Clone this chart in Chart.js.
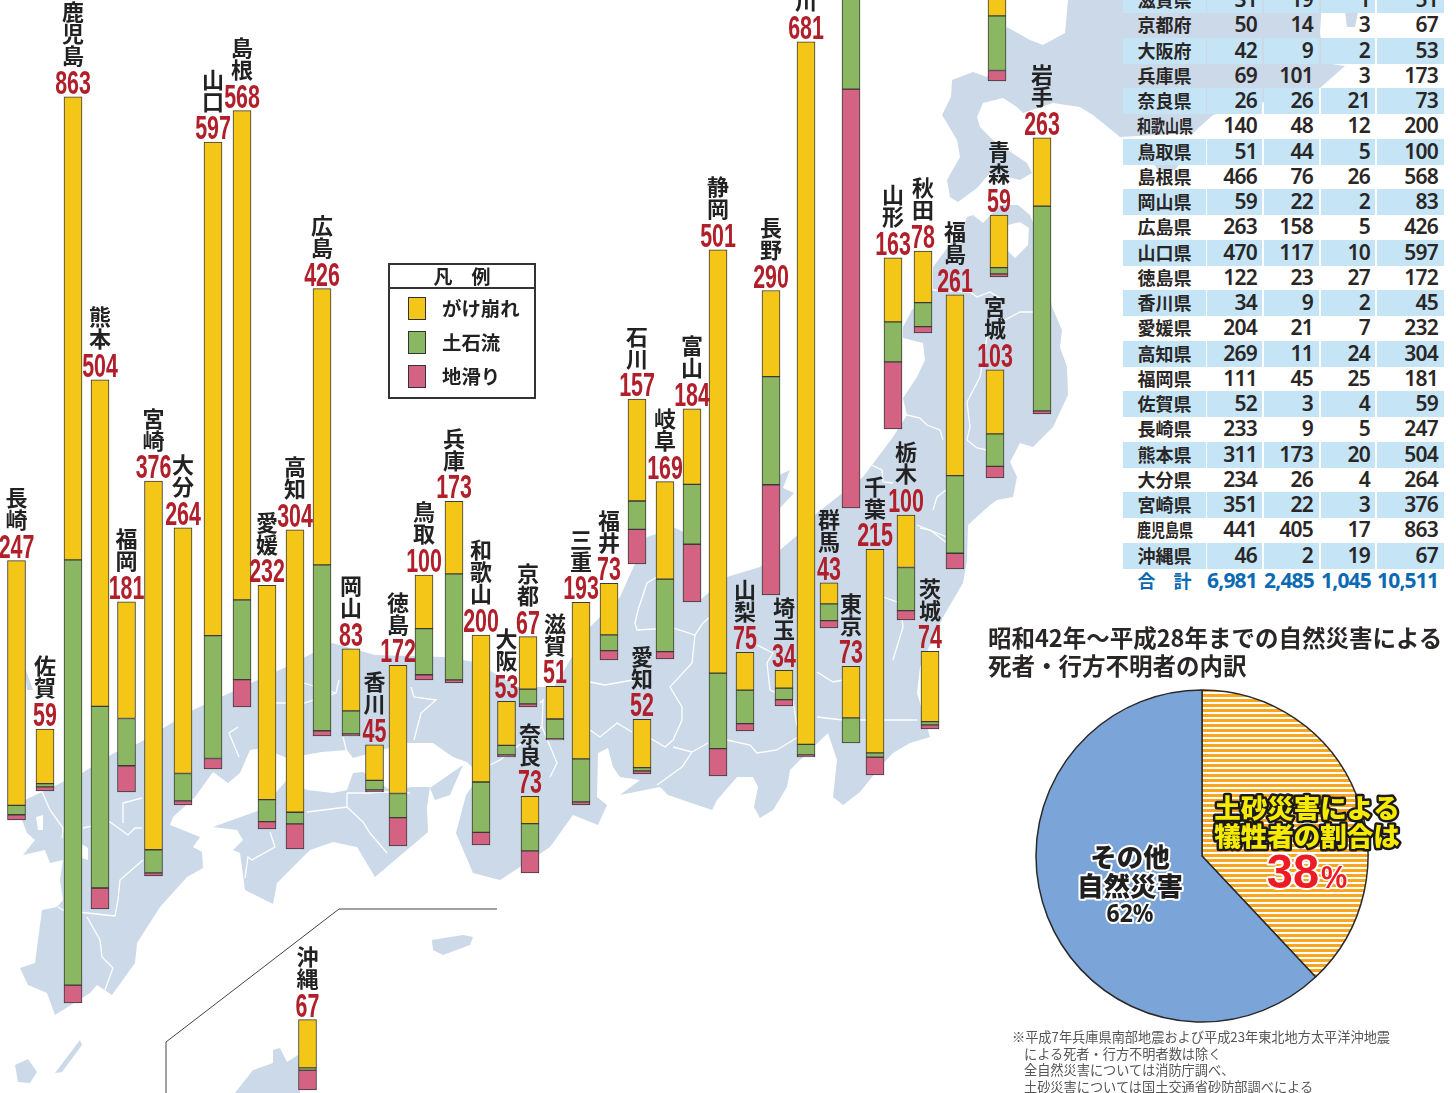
<!DOCTYPE html>
<html lang="ja">
<head>
<meta charset="utf-8">
<title>土砂災害 都道府県別 死者・行方不明者数</title>
<script src="https://cdn.jsdelivr.net/npm/chart.js@4"></script>
<style>
html,body{margin:0;padding:0;background:#fff;width:1456px;height:1093px;overflow:hidden}
body{position:relative;font-family:"Noto Sans CJK JP","Noto Sans",sans-serif;color:#222}
#map{position:absolute;left:0;top:0}
#barChart{position:absolute;left:0;top:0}
#pieChart{position:absolute;left:1030px;top:684px}
.row{position:absolute;left:1123px;width:323px;height:26px;line-height:25px}
.row.blue span{background:#c5e5f7}
.row span{position:absolute;top:0;height:26px;text-align:right;box-sizing:border-box;
  font:600 21px/25px "Noto Sans",sans-serif;letter-spacing:-.8px;color:#2a2626}
.row span.name{font:700 18px/25px "Noto Sans CJK JP",sans-serif;letter-spacing:0;text-align:center}
.row span.name i{display:inline-block;font-style:normal;transform:scaleX(.78);transform-origin:center;white-space:nowrap;margin:0 -9px}
.row.total span{color:#0a6ab3;font-weight:700}
#legend{position:absolute;left:388px;top:263px;width:144px;height:132px;border:2px solid #333;background:#fff}
#legend .head{height:22px;border-bottom:2px solid #333;text-align:center;font:700 19px/22px "Noto Sans CJK JP",sans-serif}
#legend .sw{position:absolute;left:18px;width:16px;height:21px;border:1.5px solid #333}
#legend .lb{position:absolute;left:52px;font:700 19.4px/24px "Noto Sans CJK JP",sans-serif}
#title{position:absolute;left:988px;top:623px;font:700 23.5px/28px "Noto Sans CJK JP",sans-serif;color:#2a2626;white-space:nowrap}
#note{position:absolute;left:1012px;top:1029px;font:400 13.2px/16.7px "Noto Sans CJK JP",sans-serif;color:#555;white-space:nowrap}
#note div+div{padding-left:12px}
</style>
</head>
<body>
<svg id="map" width="1456" height="1093" viewBox="0 0 1456 1093">
  <g fill="#cbd9e8">
    <!-- 北海道 -->
    <polygon points="1068,0 1065,33 1043,45 1030,40 1007,27 987,77 973,72 952,80 951,97 942,115 957,140 960,157 947,180 950,197 958,202 977,188 990,173 1020,180 1032,173 1027,163 993,140 980,127 977,117 983,103 1003,98 1017,107 1023,113 1053,103 1080,107 1093,115 1120,137 1193,133 1213,115 1320,88 1345,66 1325,63 1320,33 1322,0"/>
    <polygon points="1345,12 1358,12 1355,27 1347,27"/>
    <polygon points="1153,163 1180,163 1175,170 1158,170"/>
    <!-- 本州・九州 -->
    <polygon points="139,743 193,710 286,667 332,643 375,655 443,657 475,662 518,687 554,687 590,627 620,597 647,537 675,528 690,535 700,600 712,590 727,577 760,567 800,533 817,513 863,477 893,437 907,415 903,398 917,377 925,360 923,343 903,338 903,327 912,310 933,290 933,267 963,227 967,217 973,215 983,223 1000,205 1018,205 1030,215 1040,240 1052,307 1062,330 1060,347 1067,367 1068,395 1053,427 1033,447 1020,443 1010,462 1017,477 1013,497 997,500 990,505 968,525 967,560 963,583 943,617 920,667 917,693 930,737 910,743 893,753 880,767 860,792 843,805 833,797 837,760 828,733 800,760 790,770 787,787 773,810 760,818 754,807 758,787 753,777 737,777 717,800 712,810 668,795 660,787 620,795 640,780 620,777 613,767 608,748 598,753 597,797 607,805 598,825 573,815 550,847 520,867 500,880 473,873 456,833 466,795 480,775 467,762 453,757 433,743 407,743 353,758 347,750 322,752 287,758 263,748 250,750 240,773 228,783 213,772 195,797 173,817 170,825 200,837 193,847 202,852 203,868 187,877 160,907 137,943 135,963 112,995 97,985 90,993 55,1015 47,993 28,985 20,968 35,963 42,910 57,907 63,900 60,880 63,860 50,863 45,850 23,855 35,840 27,833 20,815 25,800 82,773 114,753"/>
    <!-- 四国 -->
    <polygon points="213,827 260,810 287,780 307,790 333,793 347,790 353,773 363,772 390,790 413,787 430,787 427,807 428,832 375,877 357,847 333,842 310,850 277,883 273,904 245,890 240,853 233,850 243,840 237,830"/>
    <!-- 島 -->
    <polygon points="430,788 463,765 450,795 435,800"/>
    <polygon points="768,480 790,470 783,488 794,493 780,508 768,510"/>
    <polygon points="25,668 33,690 27,690"/>
    <polygon points="15,1065 28,1059 37,1072 30,1083 18,1082"/>
    <polygon points="55,1073 80,1040 82,1045 62,1072"/>
    <polygon points="432,940 463,935 473,937 470,945 443,955 433,950"/>
    <polygon points="235,1093 253,1070 273,1063 273,1050 280,1048 287,1062 298,1055 300,1093"/>
  </g>
  <g fill="#fff">
    <polygon points="1008,225 1020,222 1029,228 1028,245 1015,258 1007,250"/>
    <polygon points="80,843 88,848 88,860 82,858"/>
    <polygon points="36,817 43,815 43,830 38,830"/>
  </g>
  <g fill="none" stroke="#fff" stroke-width="1.3">
    <polyline points="40,787 50,810 63,828 62,838"/>
    <polyline points="83,828 110,822 128,835 135,828 142,828"/>
    <polyline points="123,823 123,803 142,798"/>
    <polyline points="143,860 120,880 118,900 115,916 87,913 63,910 58,907"/>
    <polyline points="87,917 100,940 102,957 113,968 105,990"/>
    <polyline points="238,727 229,733 239,757"/>
    <polyline points="271,703 304,703 336,693 339,680"/>
    <polyline points="304,683 336,693"/>
    <polyline points="343,737 348,757"/>
    <polyline points="411,687 414,697 436,700 421,713 414,740"/>
    <polyline points="347,793 347,807 363,822 370,833 387,853"/>
    <polyline points="347,793 367,793 387,792 410,793"/>
    <polyline points="307,812 347,807"/>
    <polyline points="270,832 275,847 252,860 248,857 245,878"/>
    <polyline points="635,623 638,610 647,583 657,577"/>
    <polyline points="635,623 637,630 673,628 695,635 703,623 710,617"/>
    <polyline points="695,635 692,663 670,687 682,707 682,720 673,740 665,747 650,738"/>
    <polyline points="673,747 692,752 682,767 657,785"/>
    <polyline points="692,752 708,743"/>
    <polyline points="727,740 750,745 757,753 777,750 798,737"/>
    <polyline points="757,645 773,653 767,663 770,690 793,700 797,727"/>
    <polyline points="817,672 833,682 843,680"/>
    <polyline points="817,717 843,720 867,720 917,720"/>
    <polyline points="883,597 900,603 903,627 893,660"/>
    <polyline points="917,525 947,537"/>
    <polyline points="920,528 930,530 947,543"/>
    <polyline points="590,682 605,685 633,680"/>
    <polyline points="590,730 600,737 617,723 632,732"/>
    <polyline points="540,703 543,700 542,727 557,763 550,777"/>
    <polyline points="542,727 500,760 480,770"/>
    <polyline points="903,414 920,418 927,425 940,430 943,440"/>
    <polyline points="967,440 977,448 987,450"/>
    <polyline points="967,440 970,427 967,402 980,377 987,337"/>
    <polyline points="1005,320 1020,312 1033,312"/>
    <polyline points="933,290 970,292 977,297 990,292 1003,300"/>
    <polyline points="867,463 882,470 883,482 893,483"/>
    <polyline points="933,510 937,497 950,487"/>
  </g>
  <polyline points="166,1093 166,1042 339,909 497,909" fill="none" stroke="#444" stroke-width="1"/>
</svg>

<div id="table"></div>
<canvas id="barChart" width="1456" height="1093"></canvas>
<div id="legend"><div class="head">凡　例</div></div>
<div id="title">昭和42年～平成28年までの自然災害による<br>死者・行方不明者の内訳</div>
<canvas id="pieChart" width="426" height="344"></canvas>
<div id="note">
  <div>※平成7年兵庫県南部地震および平成23年東北地方太平洋沖地震</div>
  <div>による死者・行方不明者数は除く</div>
  <div>全自然災害については消防庁調べ、</div>
  <div>土砂災害については国土交通省砂防部調べによる</div>
</div>

<script>
// 都道府県別の値（全国地方公共団体コード順）
const prefs = ["北海道","青森","岩手","宮城","秋田","山形","福島","茨城","栃木","群馬","埼玉","千葉","東京","神奈川","新潟","富山","石川","福井","山梨","長野","岐阜","静岡","愛知","三重","滋賀","京都","大阪","兵庫","奈良","和歌山","鳥取","島根","岡山","広島","山口","徳島","香川","愛媛","高知","福岡","佐賀","長崎","熊本","大分","宮崎","鹿児島","沖縄"]
const cliff  = [155,50,65,61,49,61,172,67,50,20,17,194,49,669,200,72,97,49,36,82,93,403,46,149,31,50,42,69,26,140,51,466,59,263,470,122,34,204,269,111,52,233,311,234,351,441,46]
const debris = [52,6,195,31,23,38,74,3,41,16,11,4,24,10,155,57,27,15,32,103,69,72,3,41,19,14,9,101,26,48,44,76,22,158,117,23,9,21,11,45,3,9,173,26,22,405,2]
const slide  = [10,3,3,11,6,64,15,4,9,7,6,17,0,2,399,55,33,9,7,105,7,26,3,3,1,3,2,3,21,12,5,26,2,5,10,27,2,7,24,25,4,5,20,4,3,17,19]
const totals = [217,59,263,103,78,163,261,74,100,43,34,215,73,681,754,184,157,73,75,290,169,501,52,193,51,67,53,173,73,200,100,568,83,426,597,172,45,232,304,181,59,247,504,264,376,863,67]
const sumRow = ["合　計","6,981","2,485","1,045","10,511"]

// 地図上の棒の位置（ピクセル）
const barX      = [997,999,1042,995,923,893,955,930,906,829,784,875,851,806,851,692,637,609,745,771,665,718,642,581,555,528,506.5,454,530,481,424,242,351,322,213,398,374.5,267,295,126.5,45,16.5,100,183,153.5,73,307.5]
const barBottom = [81,277,414,478,333,429,569,729,620,628,706,775,743,757,508,602,564,660,731,595,659,776,774,805,740,707,757,683,873,845,680,707,736,736,769,846,792,829,849,792,791,820,909,805,876,1003,1090]

const legendLabels = ["がけ崩れ","土石流","地滑り"]
const colors = ["#f3c618","#8bb762","#d46282"]

const pieLabels = ["土砂災害","その他自然災害"]
const pieValues = [38,62]

const pxPerUnit = 1.05
const firstRow = prefs.indexOf("滋賀")

// 棒はピンク(下)→緑→黄(上)の順に積む
const base = barBottom.map(b => (1093 - b) / pxPerUnit)
const slideBars  = barX.map((x,i) => slide[i] ? {x:x, y:[base[i], base[i]+slide[i]]} : null).filter(d => d)
const debrisBars = barX.map((x,i) => ({x:x, y:[base[i]+slide[i], base[i]+slide[i]+debris[i]]}))
const cliffBars  = barX.map((x,i) => ({x:x, y:[base[i]+slide[i]+debris[i], base[i]+slide[i]+debris[i]+cliff[i]]}))

const labelPlugin = {
  id: "prefLabels",
  afterDatasetsDraw(chart) {
    const ctx = chart.ctx
    const sx = chart.scales.x, sy = chart.scales.y
    ctx.save()
    prefs.forEach((name,i) => {
      const x = sx.getPixelForValue(barX[i])
      const top = sy.getPixelForValue(base[i] + totals[i])
      if (top < -20) return
      ctx.save()
      ctx.translate(x, top - 3)
      ctx.scale(0.63, 1)
      ctx.fillStyle = "#b01f2a"
      ctx.font = "bold 34px 'Liberation Sans'"
      ctx.textAlign = "center"
      ctx.textBaseline = "alphabetic"
      ctx.fillText(totals[i], 0, 0)
      ctx.restore()
      ctx.fillStyle = "#222"
      ctx.font = "700 22px 'Noto Sans CJK JP'"
      ctx.textAlign = "center"
      ctx.textBaseline = "middle"
      const chars = [...name]
      chars.forEach((c,j) => {
        const y = top - 41 - 22 * (chars.length - 1 - j)
        if (y > -12) ctx.fillText(c, x, y)
      })
    })
    ctx.restore()
  }
}

new Chart(document.getElementById("barChart"), {
  type: "bar",
  data: {
    datasets: [
      {label: legendLabels[0], data: cliffBars, backgroundColor: colors[0]},
      {label: legendLabels[1], data: debrisBars, backgroundColor: colors[1]},
      {label: legendLabels[2], data: slideBars, backgroundColor: colors[2]}
    ]
  },
  options: {
    responsive: false,
    animation: false,
    layout: {padding: 0},
    datasets: {bar: {grouped: false, barThickness: 18, borderWidth: 1, borderColor: "#3a3a3a", borderSkipped: false}},
    plugins: {legend: {display: false}, tooltip: {enabled: false}},
    scales: {
      x: {type: "linear", min: 0, max: 1456, display: false, offset: false},
      y: {type: "linear", min: 0, max: 1093 / pxPerUnit, display: false}
    }
  },
  plugins: [labelPlugin]
})

// 縞模様（円グラフの土砂災害）
function stripes() {
  const c = document.createElement("canvas")
  c.width = 5; c.height = 5
  const g = c.getContext("2d")
  g.fillStyle = "#fff"; g.fillRect(0,0,5,5)
  g.fillStyle = "#f9a61e"; g.fillRect(0,0,5,3)
  return g.createPattern(c, "repeat")
}

function outlined(ctx, text, x, y, font, fill, stroke, lw, sxScale) {
  ctx.save()
  ctx.translate(x, y)
  ctx.scale(sxScale || 1, 1)
  ctx.font = font
  ctx.textAlign = "center"
  ctx.textBaseline = "middle"
  ctx.lineJoin = "round"
  ctx.strokeStyle = stroke
  ctx.lineWidth = lw
  ctx.strokeText(text, 0, 0)
  ctx.fillStyle = fill
  ctx.fillText(text, 0, 0)
  ctx.restore()
}

const pieText = {
  id: "pieText",
  afterDatasetsDraw(chart) {
    const ctx = chart.ctx
    const a = chart.getDatasetMeta(0).data[0]
    const cx = a.x, cy = a.y
    const jp = "900 26.5px 'Noto Sans CJK JP'"
    outlined(ctx, "土砂災害による", cx+105, cy-48, jp, "#f6ea00", "#1a1a1a", 5)
    outlined(ctx, "犠牲者の割合は", cx+105, cy-20, jp, "#f6ea00", "#1a1a1a", 5)
    outlined(ctx, "38", cx+91, cy+18, "bold 49px 'Liberation Sans'", "#ed1c24", "#fff", 4, 0.96)
    outlined(ctx, "%", cx+132, cy+23, "bold 31px 'Liberation Sans'", "#ed1c24", "#fff", 3, 0.95)
    const jp2 = "900 26.5px 'Noto Sans CJK JP'"
    outlined(ctx, "その他", cx-72, cy+1, jp2, "#1f1f1f", "#fff", 4)
    outlined(ctx, "自然災害", cx-72, cy+30, jp2, "#1f1f1f", "#fff", 4)
    outlined(ctx, "62%", cx-72, cy+59, "bold 25px 'Noto Sans'", "#1f1f1f", "#fff", 4, 0.92)
  }
}

new Chart(document.getElementById("pieChart"), {
  type: "pie",
  data: {
    labels: pieLabels,
    datasets: [{
      data: pieValues,
      backgroundColor: [stripes(), "#7ba5d8"],
      borderColor: "#2a2a2a",
      borderWidth: 1.5,
      radius: 166
    }]
  },
  options: {
    responsive: false,
    animation: false,
    layout: {padding: {right: 82}},
    plugins: {legend: {display: false}, tooltip: {enabled: false}}
  },
  plugins: [pieText]
})

// 凡例
const legend = document.getElementById("legend")
legendLabels.forEach((t,i) => {
  const top = 32 + 34 * i
  legend.insertAdjacentHTML("beforeend",
    `<div class="sw" style="top:${top}px;background:${colors[i]}"></div><div class="lb" style="top:${top-1}px">${t}</div>`)
})

// 表（画面に入る滋賀県から下）
const colLeft  = [0,84,141,198,254]
const colWidth = [83,55,55,54,67]
const colPad   = [0,5,6,5,6]
function suffix(n) { return n === "京都" || n === "大阪" ? n + "府" : n + "県" }
function addRow(cells, top, cls) {
  const r = document.createElement("div")
  r.className = "row " + cls
  r.style.top = top + "px"
  cells.forEach((c,j) => {
    const s = document.createElement("span")
    s.style.left = colLeft[j] + "px"
    s.style.width = colWidth[j] + "px"
    s.style.paddingRight = colPad[j] + "px"
    if (j === 0) {
      s.className = "name"
      if ([...c].length > 3 && cls !== "total") {
        const t = document.createElement("i")
        t.textContent = c
        s.appendChild(t)
      } else {
        s.textContent = c
      }
    } else {
      s.textContent = c
    }
    r.appendChild(s)
  })
  document.getElementById("table").appendChild(r)
}
for (let i = firstRow; i < prefs.length; i++) {
  const k = i - firstRow
  addRow([suffix(prefs[i]), cliff[i], debris[i], slide[i], totals[i]], -13 + 25.25 * k, k % 2 === 0 ? "blue" : "")
}
addRow(sumRow, -12.5 + 25.25 * (prefs.length - firstRow), "total")
</script>
</body>
</html>
